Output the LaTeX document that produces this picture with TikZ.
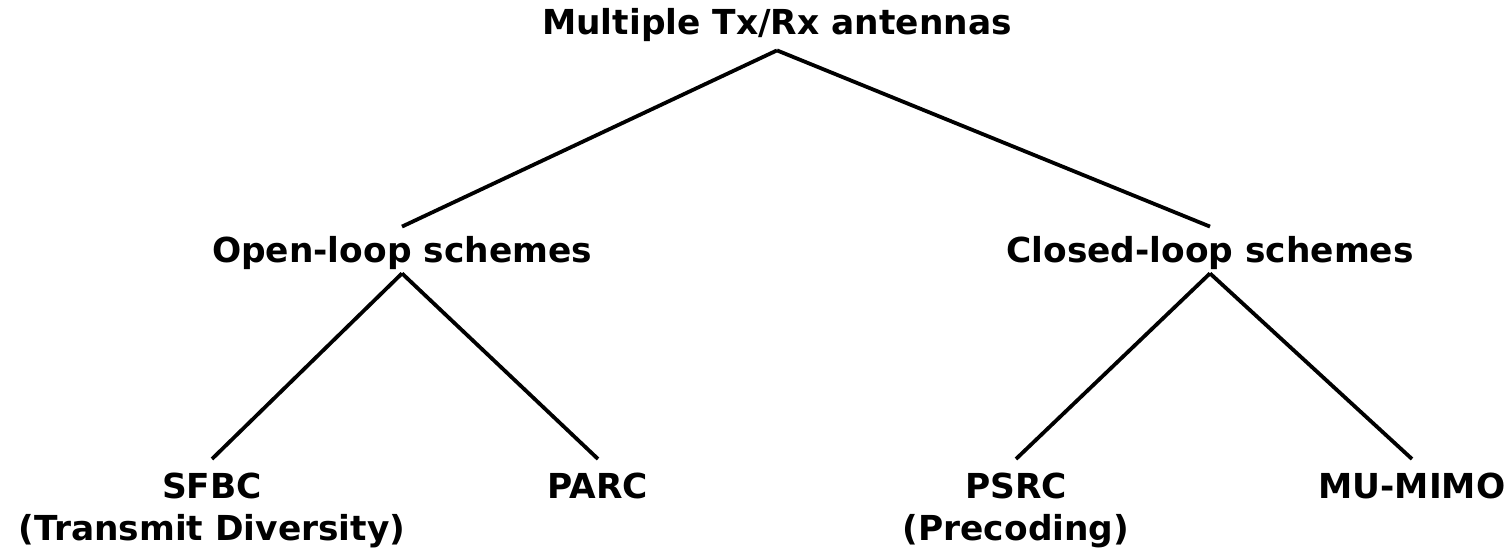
\documentclass[tikz,border=0pt]{standalone}
\usepackage{fontspec}
\setmainfont{DejaVu Sans}
\begin{document}
\begin{tikzpicture}[x=0.5pt, y=-0.5pt,
  label/.style={font=\bfseries\fontsize{17.2}{21}\selectfont, inner sep=0pt},
  rootnode/.style={label, anchor=base, text depth=7.5pt},
  midnode/.style={label, anchor=base, text height=18pt, text depth=5pt},
  leafnode/.style={label, anchor=north, inner ysep=7pt, align=center},
  branch/.style={line width=1.9pt}]
  \useasboundingbox (0,0) rectangle (1506,555);
  % root and the two families of schemes
  \node[rootnode] (root) at (777,35) {Multiple Tx/Rx antennas};
  \node[midnode] (open) at (402,263) {Open-loop schemes};
  \node[midnode] (closed) at (1210,263) {Closed-loop schemes};
  % individual schemes
  \node[leafnode] (sfbc) at (212,459) {SFBC\\(Transmit Diversity)};
  \node[leafnode] (parc) at (598,459) {PARC};
  \node[leafnode] (psrc) at (1016,459) {PSRC\\(Precoding)};
  \node[leafnode] (mumimo) at (1412,459) {MU-MIMO};
  % tree branches
  \draw[branch] (root.south) -- (open.north);
  \draw[branch] (root.south) -- (closed.north);
  \draw[branch] (open.south) -- (sfbc.north);
  \draw[branch] (open.south) -- (parc.north);
  \draw[branch] (closed.south) -- (psrc.north);
  \draw[branch] (closed.south) -- (mumimo.north);
\end{tikzpicture}
\end{document}
